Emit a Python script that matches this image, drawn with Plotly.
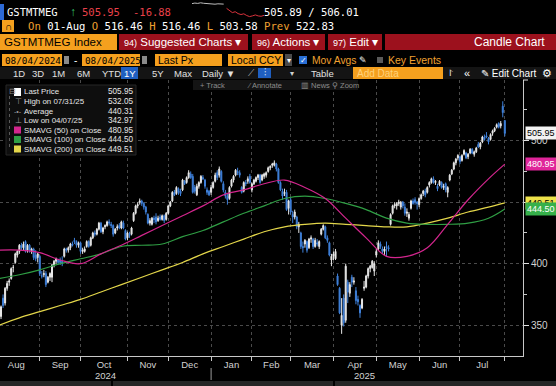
import pandas as pd
import plotly.graph_objects as go

W, H = 556, 386
SANS = "Liberation Sans, Arial, sans-serif"
MONO = "DejaVu Sans Mono, monospace"

# ---------------- data ----------------
holidays = ["2024-09-02", "2024-11-28", "2024-12-25", "2025-01-01", "2025-01-09",
            "2025-01-20", "2025-02-17", "2025-04-18", "2025-05-26", "2025-06-19", "2025-07-04"]
dates = [d.strftime("%Y-%m-%d") for d in pd.bdate_range("2024-08-05", "2025-08-01")
         if d.strftime("%Y-%m-%d") not in holidays]

opens = [
    368, 357, 372, 368, 380, 385, 388, 397, 401, 407, 410, 415, 413, 418, 411, 415, 410, 412, 407, 405,
    406, 390, 391, 392, 385, 389, 389, 399, 402, 403, 403, 402, 406, 412, 411, 413, 416, 419, 418, 415,
    417, 410, 410, 414, 418, 415, 421, 425, 424, 428, 433, 426, 430, 431, 434, 432, 431, 425, 429, 431, 429, 433, 427,
    421, 424, 424, 435, 441, 447, 450, 451, 449, 446, 440, 433, 432, 437, 438, 435, 438, 436, 439, 436,
    441, 447, 451, 458, 457, 461, 459, 460, 467, 466, 470, 473, 471, 462, 456, 463, 466, 470, 468, 460, 459,
    458, 462, 467, 474, 472, 475, 465, 458, 455, 453, 463, 468, 472, 475, 474, 462, 459, 466, 467, 471,
    460, 465, 467, 470, 472, 468, 471, 472, 475, 478, 480, 480, 481, 477, 466, 459, 457, 458, 445,
    452, 440, 438, 438, 430, 425, 414, 416, 418, 413, 420, 420, 414, 417, 414, 424, 428, 430, 421, 417, 403,
    406, 404, 390, 380, 350, 372, 354, 385, 376, 389, 385, 378, 371, 366, 364, 380, 381, 390, 396, 397, 394,
    407, 412, 416, 412, 410, 414, 413, 432, 441, 447, 447, 449, 446, 450, 446, 441, 437, 445, 451, 452, 450,
    448, 453, 457, 459, 458, 464, 466, 469, 466, 463, 464, 466, 462, 465, 458, 468, 473, 477, 482, 486,
    487, 484, 489, 490, 487, 490, 493, 489, 491, 497, 495, 499, 503, 504, 502, 501, 506, 508, 511, 514, 512, 528,
    516.46]
highs = [
    372, 366, 375, 381, 386, 388, 397, 399, 409, 411, 416, 417, 418, 419, 416, 416, 413, 413, 411, 409,
    407, 394, 395, 394, 390, 393, 400, 403, 405, 404, 405, 406, 413, 413, 414, 417, 418, 421, 419, 418,
    418, 413, 414, 419, 419, 422, 426, 427, 429, 434, 434, 430, 432, 435, 436, 434, 432, 429, 432, 433, 435, 435, 428,
    426, 426, 430, 442, 448, 450, 453, 452, 450, 447, 441, 437, 438, 439, 441, 439, 440, 440, 440, 442,
    448, 451, 459, 460, 463, 462, 461, 469, 468, 471, 476, 475, 473, 464, 465, 467, 472, 472, 469, 462, 460,
    464, 467, 474, 476, 479, 476, 467, 460, 457, 463, 469, 472, 477, 478, 476, 463, 467, 468, 471, 473,
    466, 469, 471, 473, 473, 473, 474, 475, 479, 480, 482, 484, 482, 478, 467, 461, 461, 460, 452,
    454, 443, 444, 439, 434, 426, 418, 420, 419, 421, 423, 421, 421, 420, 419, 429, 432, 431, 423, 418, 408,
    410, 412, 392, 381, 372, 375, 400, 387, 385, 391, 389, 381, 374, 367, 372, 386, 391, 397, 399, 403, 402,
    412, 419, 418, 414, 414, 418, 415, 441, 448, 450, 450, 452, 451, 451, 449, 445, 442, 452, 453, 454, 451,
    454, 457, 460, 461, 463, 467, 470, 471, 468, 465, 468, 467, 465, 466, 463, 473, 477, 483, 486, 489,
    488, 489, 493, 491, 490, 494, 494, 492, 495, 499, 499, 504, 505, 507, 503, 506, 509, 511, 514, 515, 516, 532.05,
    516.46]
lows = [
    350, 355, 364, 366, 378, 382, 387, 393, 400, 405, 408, 411, 411, 409, 409, 409, 408, 403, 402, 401,
    390, 388, 389, 381, 384, 386, 385, 397, 400, 399, 399, 398, 405, 409, 409, 411, 414, 416, 413, 413,
    408, 408, 409, 413, 413, 414, 420, 422, 423, 427, 425, 424, 428, 430, 431, 429, 422, 424, 427, 428, 428, 428, 419,
    419, 421, 423, 434, 440, 445, 448, 447, 444, 440, 432, 431, 431, 433, 432, 434, 435, 435, 433, 435,
    440, 446, 450, 455, 456, 456, 455, 459, 464, 465, 469, 469, 457, 457, 455, 461, 465, 468, 461, 456, 455,
    456, 461, 466, 468, 470, 466, 458, 453, 448, 452, 462, 466, 471, 472, 470, 457, 458, 463, 465, 465,
    458, 464, 466, 468, 465, 467, 469, 470, 474, 476, 478, 479, 475, 465, 459, 452, 455, 443, 440,
    440, 433, 436, 428, 425, 412, 409, 413, 409, 412, 417, 412, 413, 414, 412, 423, 427, 420, 417, 406, 398,
    403, 403, 382, 359, 342.97, 349, 352, 368, 373, 381, 383, 367, 366, 356, 363, 378, 380, 388, 393, 396, 390,
    405, 411, 412, 408, 407, 406, 410, 431, 440, 445, 444, 447, 444, 445, 439, 438, 435, 444, 448, 448, 444,
    446, 452, 455, 454, 457, 462, 465, 465, 464, 459, 463, 461, 460, 458, 454, 467, 472, 476, 480, 484,
    481, 483, 488, 485, 485, 489, 489, 487, 490, 494, 493, 498, 500, 502, 497, 500, 504, 507, 510, 510, 510, 519,
    503.58]
closes = [
    356, 365, 366, 380, 384, 386, 396, 397, 408, 410, 415, 413, 416, 410, 415, 411, 412, 405, 404, 408,
    392, 390, 392, 383, 389, 392, 399, 402, 404, 401, 401, 400, 412, 411, 413, 416, 415, 418, 415, 417,
    410, 411, 412, 418, 414, 421, 425, 424, 428, 433, 426, 429, 431, 434, 433, 431, 424, 428, 430, 429, 434, 429, 420,
    425, 423, 429, 441, 447, 448, 451, 449, 446, 442, 433, 435, 437, 436, 434, 437, 436, 439, 435, 441,
    447, 450, 458, 456, 462, 458, 457, 468, 465, 470, 474, 470, 458, 459, 463, 466, 471, 469, 463, 458, 456,
    462, 466, 472, 470, 477, 467, 460, 455, 452, 462, 468, 471, 476, 474, 472, 458, 466, 465, 469, 466,
    465, 468, 470, 472, 466, 472, 473, 474, 478, 479, 481, 482, 477, 466, 460, 455, 458, 444, 451,
    442, 438, 442, 430, 432, 414, 413, 419, 411, 420, 421, 414, 419, 416, 418, 428, 431, 421, 419, 407, 406,
    408, 410, 383, 360, 358, 352, 398, 377, 383, 385, 386, 370, 369, 360, 371, 381, 390, 396, 398, 402, 400,
    410, 417, 414, 410, 412, 413, 412, 440, 447, 448, 449, 450, 450, 447, 441, 442, 440, 451, 449, 450, 449,
    453, 456, 459, 456, 462, 466, 469, 466, 467, 461, 467, 462, 463, 460, 462, 472, 476, 482, 485, 488,
    483, 488, 492, 486, 489, 493, 490, 491, 494, 495, 498, 503, 501, 503, 499, 505, 508, 510, 513, 511, 514, 522.83,
    505.95]
assert len(dates) == len(opens) == len(highs) == len(lows) == len(closes) == 249

# moving averages read every 10th session (+ last session)
ma_dates = dates[::10] + [dates[-1]]
sma50 = [411, 411, 409, 403, 400, 408, 415, 423, 431, 439, 447, 456, 460, 465, 468, 462, 453,
         437, 421, 406, 406, 413, 432, 452, 469, 480.95]
sma100 = [388, 391, 395, 400, 404, 408, 414, 415, 416, 422, 427, 434, 441, 447, 453, 455, 453,
          449, 444, 437, 433, 432, 432, 433, 437, 444.50]
sma200 = [350, 356, 361, 366, 371, 377, 383, 389, 395, 401, 408, 414, 420, 426, 430, 432, 433,
          432, 431, 430, 430, 433, 437, 442, 446, 449.51]

month_starts = ["2024-09-03", "2024-10-01", "2024-11-01", "2024-12-02", "2025-01-02", "2025-02-03",
                "2025-03-03", "2025-04-01", "2025-05-01", "2025-06-02", "2025-07-01", "2025-08-01"]
month_mids = ["2024-08-15 12:00", "2024-09-17", "2024-10-16 12:00", "2024-11-15", "2024-12-16 12:00",
              "2025-01-17", "2025-02-14 12:00", "2025-03-17 12:00", "2025-04-15 12:00",
              "2025-05-15 12:00", "2025-06-16", "2025-07-17"]
month_labels = ["Aug", "Sep", "Oct", "Nov", "Dec", "Jan", "Feb", "Mar", "Apr", "May", "Jun", "Jul"]
year_labels = ["2024", "2025"]
year_dates = ["2024-10-17", "2025-04-23"]
y_ticks = [350, 400, 450, 500]
y_ticktext = ["350", "400", "", "500"]
y_minor = [375, 425, 475, 525]

spark_prev = [523.6, 524.4, 523.9, 524.8, 524.1, 523.5, 524.0, 523.2, 522.7, 523.3, 522.9, 522.83]
spark_today = [516.5, 513.2, 510.1, 511.4, 508.6, 507.2, 508.3, 505.7, 504.1, 505.2, 506.6, 505.1, 504.6, 505.95]

last_labels = ["505.95", "480.95", "449.51", "444.50"]
last_values = [505.95, 480.95, 449.51, 444.50]
last_bg = ["#f2f2f2", "#e0259a", "#eee24a", "#36b04a"]
last_fg = ["#000000", "#ffffff", "#000000", "#ffffff"]

legend_names = ["Last Price", "High on 07/31/25", "Average", "Low on 04/07/25",
                "SMAVG (50) on Close", "SMAVG (100) on Close", "SMAVG (200) on Close"]
legend_values = ["505.95", "532.05", "440.31", "342.97", "480.95", "444.50", "449.51"]

C_UP, C_DN = "#e8e8e8", "#3f80da"
C50, C100, C200 = "#d4268e", "#2f9e44", "#e3d64a"

# ---------------- figure ----------------
fig = go.Figure()
fig.add_trace(go.Scatter(x=ma_dates, y=sma200, mode="lines", line=dict(color=C200, width=1.2, shape="spline"), hoverinfo="skip"))
fig.add_trace(go.Scatter(x=ma_dates, y=sma100, mode="lines", line=dict(color=C100, width=1.2, shape="spline"), hoverinfo="skip"))
fig.add_trace(go.Scatter(x=ma_dates, y=sma50, mode="lines", line=dict(color=C50, width=1.2, shape="spline"), hoverinfo="skip"))
fig.add_trace(go.Candlestick(
    x=dates, open=opens, high=highs, low=lows, close=closes, whiskerwidth=0,
    increasing=dict(line=dict(color=C_UP, width=1), fillcolor=C_UP),
    decreasing=dict(line=dict(color=C_DN, width=1), fillcolor=C_DN),
    hoverinfo="skip"))

# sparkline in header
fig.add_trace(go.Scatter(x=list(range(len(spark_prev))), y=spark_prev, xaxis="x2", yaxis="y2",
                         mode="lines", line=dict(color="#bdbdbd", width=1), hoverinfo="skip"))
fig.add_trace(go.Scatter(x=list(range(len(spark_prev), len(spark_prev) + len(spark_today))), y=spark_today,
                         xaxis="x2", yaxis="y2", mode="lines", line=dict(color="#d8323c", width=1), hoverinfo="skip"))


def px(x):
    return x / W


def py(y):
    return 1 - y / H


fig.update_layout(
    width=W, height=H, margin=dict(l=0, r=0, t=0, b=0),
    paper_bgcolor="#000000", plot_bgcolor="#000000", showlegend=False, hovermode=False,
    font=dict(family=SANS, size=10, color="#d0d0d0"),
    xaxis=dict(
        domain=[0, px(523)], type="date",
        range=["2024-08-05 12:00", "2025-08-13 22:00"],
        rangebreaks=[dict(bounds=["sat", "mon"]), dict(values=holidays)],
        rangeslider=dict(visible=False),
        showline=True, linecolor="#c8c8c8", linewidth=1, zeroline=False,
        tickmode="array", tickvals=month_mids, ticktext=month_labels, ticks="",
        showgrid=False, tickfont=dict(size=9.5, color="#d2d2d2", family=SANS),
        minor=dict(tickmode="array", tickvals=month_starts, ticks="outside", ticklen=4,
                   tickcolor="#c8c8c8", showgrid=True, gridcolor="#4a4a4a", griddash="dot", gridwidth=1),
    ),
    yaxis=dict(
        domain=[py(356), py(80)], range=[324.96, 549.35], side="right",
        showline=True, linecolor="#c8c8c8", linewidth=1, zeroline=False,
        tickmode="array", tickvals=y_ticks, ticktext=y_ticktext, ticks="outside", ticklen=5, tickcolor="#e0e0e0",
        showgrid=True, gridcolor="#4a4a4a", griddash="dot", gridwidth=1,
        tickfont=dict(size=10, color="#d2d2d2", family=SANS),
        minor=dict(tickmode="array", tickvals=y_minor, ticks="outside", ticklen=3, tickcolor="#c8c8c8", showgrid=False),
    ),
    xaxis2=dict(domain=[px(192), px(264)], range=[0, 25], visible=False, anchor="y2"),
    yaxis2=dict(domain=[py(18), py(2)], range=[502, 526], visible=False, anchor="x2"),
)


def rect(x0, y0, x1, y1, fill, line=None, lw=0):
    fig.add_shape(type="rect", xref="paper", yref="paper", x0=px(x0), x1=px(x1), y0=py(y1), y1=py(y0),
                  fillcolor=fill, line=dict(color=line or fill, width=lw), layer="above")


def hline(x0, x1, y, color, w=1):
    fig.add_shape(type="line", xref="paper", yref="paper", x0=px(x0), x1=px(x1), y0=py(y), y1=py(y),
                  line=dict(color=color, width=w), layer="above")


def vline(x, y0, y1, color, w=1, dash="solid"):
    fig.add_shape(type="line", xref="paper", yref="paper", x0=px(x), x1=px(x), y0=py(y0), y1=py(y1),
                  line=dict(color=color, width=w, dash=dash), layer="above")


def text(x, y, s, color="#e6e6e6", size=10, family=SANS, anchor="left", bg=None):
    fig.add_annotation(xref="paper", yref="paper", x=px(x), y=py(y), text=s, showarrow=False,
                       xanchor=anchor, yanchor="middle", font=dict(color=color, size=size, family=family),
                       bgcolor=bg, borderpad=0)


ORG = "#f5a01e"
OT = "#f0a030"

# Row 1
rect(0, 4, 4, 20, "#2d6ad6")
text(6, 12, "GSTMTMEG", "#ffffff", 10.5, MONO)
text(69, 12, "\u2191", "#33c46a", 12, SANS)
text(81, 12, "505.95", "#e8404a", 10.5, MONO)
text(132, 12, "-16.88", "#e8404a", 10.5, MONO)
text(263, 12, "505.89 / 506.01", "#ffffff", 10.5, MONO)

# Row 2
rect(2, 20, 14, 32, ORG)
text(8, 26.5, "\u2229", "#000000", 10, SANS, "center")
o = lambda s: f"<span style='color:{OT}'>{s}</span>"
text(27, 26, f"{o('On')} 01-Aug {o('O')} 516.46 {o('H')} 516.46 {o('L')} 503.58 {o('Prev')} 522.83",
     "#ffffff", 10.6, MONO)

# Row 3
rect(0, 34, 117, 50, ORG)
text(3, 42, "GSTMTMEG Index", "#000000", 11.5, SANS)
for a, b in [(119, 248), (252, 325), (328, 382), (385, 556)]:
    rect(a, 34, b, 50, "#9c111d")
text(123, 42, "<span style='font-size:9px'>94)</span> Suggested Charts \u25be", "#ffffff", 11.5, SANS)
text(256, 42, "<span style='font-size:9px'>96)</span> Actions \u25be", "#ffffff", 11.5, SANS)
text(332, 42, "<span style='font-size:9px'>97)</span> Edit \u25be", "#ffffff", 11.5, SANS)
text(473, 42, "Candle Chart", "#ffffff", 12, SANS)

# Row 4
rect(2, 54, 62, 66, ORG)
text(4, 60, "08/04/2024", "#000000", 9.3, MONO)
rect(64, 56, 69, 64, "#8a8a8a")
text(73, 60, "-", "#ffffff", 10, SANS)
rect(82, 54, 140, 66, ORG)
text(84, 60, "08/04/2025", "#000000", 9.3, MONO)
rect(142, 56, 147, 64, "#8a8a8a")
rect(155, 54, 222, 66, ORG)
text(157, 60, "Last Px", "#000000", 10.5, SANS)
rect(228, 54, 283, 66, ORG)
text(230, 60, "Local CCY", "#000000", 10.5, SANS)
rect(285, 54, 292, 66, "#4a4a4a")
text(288.5, 60, "\u25be", "#ffffff", 8, SANS, "center")
rect(299, 56, 307, 64, "#2a6fd6")
text(303, 60, "\u2713", "#ffffff", 8, SANS, "center")
text(311, 60, "Mov Avgs", OT, 10.3, SANS)
text(358, 60, "\u270e", "#ffffff", 8.5, SANS)
rect(377, 57, 383, 63, "#5a5a5a")
text(387, 60, "Key Events", OT, 10.5, SANS)

# Row 5
rect(0, 67, 556, 79, "#141414")
for xx, s in [(12, "1D"), (31, "3D"), (51, "1M"), (76, "6M"), (101, "YTD"), (151, "5Y"), (173, "Max"),
              (201, "Daily \u25bc"), (310, "Table")]:
    text(xx, 73, s, "#e0e0e0", 9.5, SANS)
rect(121, 67, 138, 79, "#1f5fc0")
text(129.5, 73, "1Y", "#ffffff", 9.5, SANS, "center")
text(247, 73, "\u27cb", "#bbbbbb", 9, SANS)
rect(258, 68, 271, 78, "#1f5fc0")
text(264.5, 73, "\u2af6", "#ffffff", 9, SANS, "center")
text(289, 73, "\u25be", "#cfcfcf", 8, SANS)
rect(353, 67, 443, 79, ORG)
text(356, 73, "Add Data", "#ffd27a", 10, SANS)
text(448, 73, "\u2a21", "#cfcfcf", 9, SANS)
text(463, 73, "\u00ab", "#ffffff", 11, SANS)
text(480, 73, "\u270e Edit Chart", "#ffffff", 10, SANS)
text(541, 73, "\u2699", "#ffffff", 11, SANS)

# Row 6
rect(193, 80, 358, 90, "#141414")
text(199, 85, "+ Track", "#8c8c8c", 7.5, SANS)
text(246, 85, "\u2044 Annotate", "#8c8c8c", 7.5, SANS)
text(300, 85, "\u25a5 News", "#8c8c8c", 7.5, SANS)
text(331, 85, "\u26b2 Zoom", "#8c8c8c", 7.5, SANS)
hline(523, 528, 80, "#e0e0e0")

# Legend box
rect(6, 85, 136, 155, "#0e0e0e", "#262626", 1)
text(8, 92, "\u229f", "#8a8a8a", 8, SANS)
vline(9.5, 96, 149, "#5a5a5a", 1, "dot")
legend_y = [92, 101.5, 111, 120.5, 130, 139.5, 149]
for i, (nm, val, yy) in enumerate(zip(legend_names, legend_values, legend_y)):
    text(23, yy, nm, "#e6e6e6", 7.9, SANS)
    text(134, yy, val, "#e6e6e6", 8.2, SANS, "right")
rect(14, 88, 21, 96, "#ffffff")
text(14, 101.5, "\u22a4", "#9a9a9a", 8, SANS)
text(13, 111, "-\u2022-", "#9a9a9a", 7, SANS)
text(14, 120.5, "\u22a5", "#9a9a9a", 8, SANS)
rect(14, 126.5, 21, 133.5, C50)
rect(14, 136, 21, 143, C100)
rect(14, 145.5, 21, 152.5, C200)

# Last value boxes on the price axis (yellow first, green drawn over it)
for idx in [0, 1, 2, 3]:
    fig.add_annotation(xref="paper", yref="y", x=px(525), y=last_values[idx], text=last_labels[idx],
                       showarrow=False, xanchor="left", yanchor="middle",
                       font=dict(color=last_fg[idx], size=9, family=SANS),
                       bgcolor=last_bg[idx], borderpad=1)

# Year labels and separator under the date axis
for lab, d in zip(year_labels, year_dates):
    fig.add_annotation(xref="x", yref="paper", x=d, y=py(375), text=lab, showarrow=False,
                       xanchor="center", yanchor="middle", font=dict(color="#d2d2d2", size=9.5, family=SANS))
fig.add_shape(type="line", xref="x", yref="paper", x0=month_starts[4], x1=month_starts[4],
              y0=py(368), y1=py(380), line=dict(color="#9a9a9a", width=1), layer="above")

# Bottom strip
rect(0, 381, 556, 386, "#262626")
rect(111, 381, 113, 386, "#000000")
rect(333, 381, 335, 386, "#000000")

fig.write_html("out.html", config={"staticPlot": True, "displayModeBar": False},
               post_script="document.body.style.margin='0';document.body.style.overflow='hidden';")
